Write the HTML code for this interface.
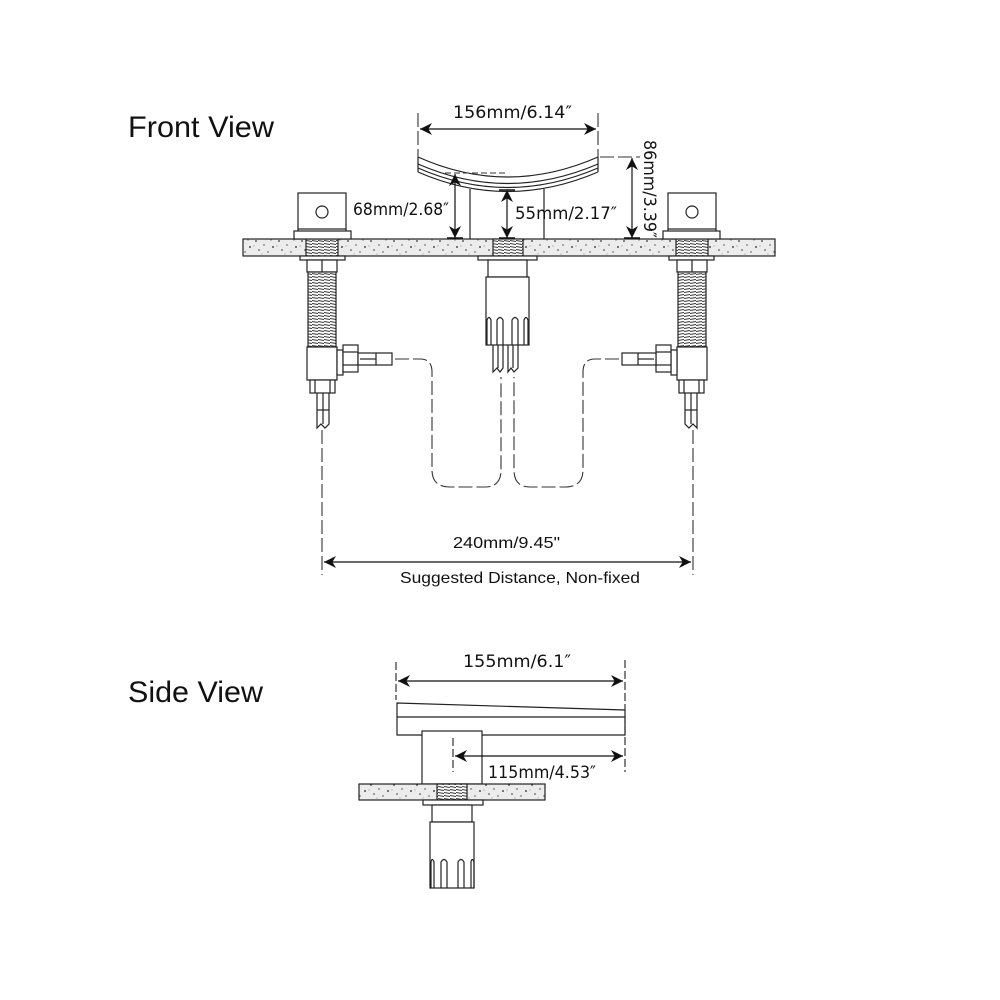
<!DOCTYPE html>
<html><head><meta charset="utf-8"><style>
html,body{margin:0;padding:0;background:#fff}
svg{display:block}
text{font-family:"DejaVu Sans","Liberation Sans",sans-serif;fill:#111}
.t{font-family:"Liberation Sans",Arial,sans-serif}
</style></head><body>
<svg width="1000" height="1000" viewBox="0 0 1000 1000" xmlns="http://www.w3.org/2000/svg">
<defs>
<pattern id="gr" width="23" height="17" patternUnits="userSpaceOnUse">
<rect width="23" height="17" fill="#ececec"/>
<circle cx="3" cy="3" r="0.9" fill="#333"/><circle cx="11" cy="7" r="0.7" fill="#444"/>
<circle cx="18" cy="2" r="0.6" fill="#555"/><circle cx="6" cy="12" r="0.8" fill="#333"/>
<circle cx="15" cy="14" r="0.7" fill="#444"/><circle cx="20" cy="9" r="0.9" fill="#222"/>
<circle cx="9" cy="16" r="0.5" fill="#666"/><circle cx="1" cy="8" r="0.5" fill="#666"/>
</pattern>
<pattern id="th" width="6" height="3" patternUnits="userSpaceOnUse">
<rect width="6" height="3" fill="#fff"/><line x1="0" y1="0.5" x2="6" y2="1.5" stroke="#333" stroke-width="1"/>
</pattern>
<marker id="ah" viewBox="0 0 10 10" refX="10" refY="5" markerWidth="12" markerHeight="12" markerUnits="userSpaceOnUse" orient="auto-start-reverse">
<path d="M0,0 L10,5 L0,10 L3,5 Z" fill="#111"/>
</marker>
</defs>

<text class="t" x="128" y="137" font-size="30" textLength="146" lengthAdjust="spacingAndGlyphs">Front View</text>
<text class="t" x="128" y="702" font-size="30" textLength="135" lengthAdjust="spacingAndGlyphs">Side View</text>

<g stroke="#222" stroke-width="1.2" fill="none">
<rect x="243" y="239" width="532" height="17" fill="url(#gr)"/>
<rect x="306" y="239" width="32" height="17" fill="url(#th)"/>
<rect x="676" y="239" width="32" height="17" fill="url(#th)"/>
<rect x="493" y="239" width="30" height="17" fill="url(#th)"/>

<path d="M418,157 Q507,197 598,157"/>
<path d="M418,164 Q507,203 598,164"/>
<path d="M418,168 Q507,207 598,168"/>
<path d="M418,172 Q507,211 598,172"/>
<line x1="418" y1="157" x2="418" y2="172"/>
<line x1="598" y1="157" x2="598" y2="172"/>
<line x1="470" y1="189" x2="470" y2="239"/>
<line x1="544" y1="189" x2="544" y2="239"/>

<rect x="478" y="256" width="59" height="4" fill="#fff"/>
<rect x="488" y="260" width="39" height="17" fill="#fff"/>
<rect x="486" y="277" width="43" height="68" fill="#fff"/>
<path d="M487,345 V320 Q489,315 491,320 V345 M497,345 V320 Q500,315 503,320 V345 M512,345 V320 Q515,315 518,320 V345 M524,345 V320 Q526,315 528,320 V345"/>
<path d="M493,345 V372 L497,368 L500,372 L503,368 V345 M508,345 V372 L511,368 L514,372 L518,368 V345 M498,345 V368 M513,345 V368"/>

<g id="h">
<rect x="298" y="193" width="48" height="36" fill="#fff"/>
<circle cx="322" cy="212" r="6"/>
<rect x="294" y="231" width="57" height="8" fill="#fff"/>
<line x1="298" y1="229" x2="298" y2="231"/><line x1="346" y1="229" x2="346" y2="231"/>
<rect x="300" y="256" width="45" height="4" fill="#fff"/>
<rect x="307" y="260" width="30" height="12" fill="#fff"/>
<line x1="322" y1="260" x2="322" y2="272"/>
<rect x="308" y="272" width="28" height="75" fill="url(#th)"/>
<rect x="307" y="347" width="30" height="33" fill="#fff"/>
<rect x="337" y="350" width="6" height="25" fill="#fff"/>
<rect x="343" y="345" width="15" height="27" fill="#fff"/>
<line x1="343" y1="352" x2="358" y2="352"/><line x1="343" y1="365" x2="358" y2="365"/>
<rect x="358" y="353" width="34" height="12" fill="#fff"/>
<line x1="376" y1="353" x2="376" y2="365"/><line x1="360" y1="359" x2="376" y2="359"/>
<rect x="310" y="380" width="25" height="13" fill="#fff"/>
<line x1="315" y1="380" x2="315" y2="393"/><line x1="330" y1="380" x2="330" y2="393"/>
<path d="M317,393 V428 L321,424 L325,428 L329,424 V393"/>
<line x1="317" y1="410" x2="329" y2="410"/><line x1="323" y1="393" x2="323" y2="424"/>
</g>
<use href="#h" transform="translate(1014,0) scale(-1,1)"/>
</g>

<g stroke="#333" stroke-width="1.1" fill="none" stroke-dasharray="14,4">
<path d="M395,359 H420 Q432,359 432,372 V470 Q432,487 450,487 H485 Q501,487 501,470 V377"/>
<path d="M619,359 H595 Q583,359 583,372 V470 Q583,487 565,487 H530 Q514,487 514,470 V377"/>
<line x1="322" y1="430" x2="322" y2="575"/>
<line x1="693" y1="430" x2="693" y2="575"/>
<line x1="418" y1="113" x2="418" y2="157"/>
<line x1="598" y1="113" x2="598" y2="157"/>
<line x1="600" y1="157" x2="640" y2="157"/>
<line x1="445" y1="173" x2="507" y2="173" stroke-dasharray="6,3"/>
</g>

<g stroke="#111" stroke-width="1.2" fill="none">
<line x1="420" y1="129" x2="596" y2="129" marker-start="url(#ah)" marker-end="url(#ah)"/>
<line x1="455" y1="174" x2="455" y2="238" marker-start="url(#ah)" marker-end="url(#ah)"/>
<line x1="507" y1="190" x2="507" y2="238" marker-start="url(#ah)" marker-end="url(#ah)"/>
<line x1="632" y1="158" x2="632" y2="238" marker-start="url(#ah)" marker-end="url(#ah)"/>
<path d="M447,238 H463 M499,238 H515 M624,238 H640 M499,190 H515" stroke-width="1.5"/>
<line x1="324" y1="562" x2="691" y2="562" marker-start="url(#ah)" marker-end="url(#ah)"/>
</g>

<text x="453" y="118" font-size="17" textLength="119" lengthAdjust="spacingAndGlyphs">156mm/6.14″</text>
<text x="353" y="215" font-size="17" textLength="96" lengthAdjust="spacingAndGlyphs">68mm/2.68″</text>
<text x="515" y="219" font-size="17" textLength="102" lengthAdjust="spacingAndGlyphs">55mm/2.17″</text>
<text x="0" y="0" font-size="17" textLength="98" lengthAdjust="spacingAndGlyphs" transform="translate(644,140) rotate(90)">86mm/3.39″</text>
<text class="t" x="453" y="548" font-size="16" textLength="107" lengthAdjust="spacingAndGlyphs">240mm/9.45"</text>
<text class="t" x="400" y="583" font-size="16" textLength="240" lengthAdjust="spacingAndGlyphs">Suggested Distance, Non-fixed</text>

<g stroke="#222" stroke-width="1.2" fill="none">
<path d="M397,703 L625,710 V735 H397 Z" fill="#fff"/>
<line x1="397" y1="717" x2="625" y2="717"/>
<rect x="422" y="731" width="60" height="53" fill="#fff"/>
<rect x="359" y="784" width="186" height="16" fill="url(#gr)"/>
<rect x="437" y="784" width="30" height="16" fill="url(#th)"/>
<rect x="423" y="800" width="60" height="5" fill="#fff"/>
<rect x="432" y="805" width="40" height="17" fill="#fff"/>
<rect x="430" y="822" width="44" height="66" fill="#fff"/>
<path d="M431,888 V862 Q432,857 434,862 V888 M441,888 V862 Q444,857 447,862 V888 M458,888 V862 Q461,857 464,862 V888 M471,888 V862 Q472,857 474,862 V888"/>
</g>
<g stroke="#333" stroke-width="1.2" fill="none" stroke-dasharray="8,3">
<line x1="396" y1="662" x2="396" y2="700"/>
<line x1="625" y1="660" x2="625" y2="772"/>
<line x1="453" y1="738" x2="453" y2="772"/>
</g>
<g stroke="#111" stroke-width="1.2" fill="none">
<line x1="398" y1="681" x2="623" y2="681" marker-start="url(#ah)" marker-end="url(#ah)"/>
<line x1="455" y1="756" x2="623" y2="756" marker-start="url(#ah)" marker-end="url(#ah)"/>
</g>
<text x="463" y="667" font-size="17" textLength="108" lengthAdjust="spacingAndGlyphs">155mm/6.1″</text>
<text x="488" y="778" font-size="17" textLength="108" lengthAdjust="spacingAndGlyphs">115mm/4.53″</text>
</svg>
</body></html>
